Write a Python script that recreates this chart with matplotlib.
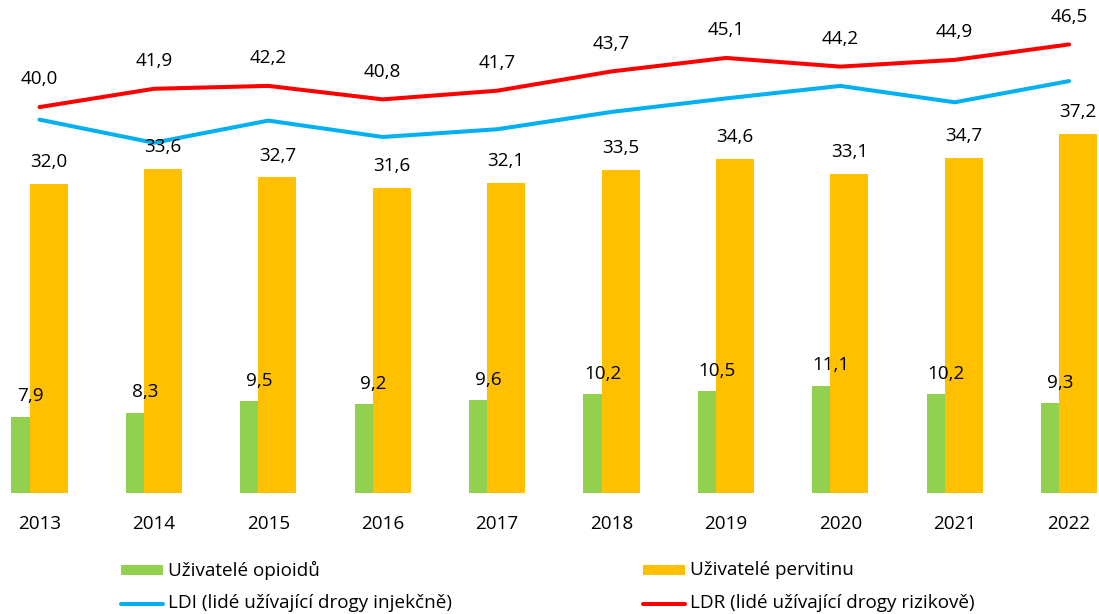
import matplotlib
matplotlib.use("Agg")
import matplotlib.pyplot as plt
from matplotlib.patches import Rectangle
from matplotlib.lines import Line2D
import numpy as np

plt.rcParams['font.family'] = ['Open Sans', 'DejaVu Sans']

years = ["2013", "2014", "2015", "2016", "2017", "2018", "2019", "2020", "2021", "2022"]
opioid_users = [7.9, 8.3, 9.5, 9.2, 9.6, 10.2, 10.5, 11.1, 10.2, 9.3]
pervitin_users = [32.0, 33.6, 32.7, 31.6, 32.1, 33.5, 34.6, 33.1, 34.7, 37.2]
ldi = [38.7, 36.3, 38.6, 36.9, 37.7, 39.5, 40.9, 42.2, 40.5, 42.7]
ldr = [40.0, 41.9, 42.2, 40.8, 41.7, 43.7, 45.1, 44.2, 44.9, 46.5]

legend_labels = ["Uživatelé opioidů", "Uživatelé pervitinu",
                 "LDI (lidé užívající drogy injekčně)",
                 "LDR (lidé užívající drogy rizikově)"]

GREEN = "#92D050"
ORANGE = "#FFC000"
BLUE = "#00B0F0"
RED = "#FF0000"
FS = 13.6

W, H = 1099, 614
fig = plt.figure(figsize=(W / 100, H / 100), dpi=100)
ax = fig.add_axes([0, 121.3 / H, 1, 482 / H])

x = np.arange(len(years))
bw = 0.332
off = 0.079

ax.bar(x - off, opioid_users, width=bw, color=GREEN, zorder=2)
ax.bar(x + off, pervitin_users, width=bw, color=ORANGE, zorder=3)
ax.plot(x, ldi, color=BLUE, lw=2.9, solid_capstyle='round', zorder=4)
ax.plot(x, ldr, color=RED, lw=2.9, solid_capstyle='round', zorder=4)


def fmt(v):
    return f"{v:.1f}".replace(".", ",")


for xi, v in zip(x, opioid_users):
    ax.annotate(fmt(v), (xi - off, v), xytext=(0, 14.7), textcoords="offset points",
                ha="center", va="center", fontsize=FS, color="black", zorder=6)
for xi, v in zip(x, pervitin_users):
    ax.annotate(fmt(v), (xi + off, v), xytext=(0, 15.8), textcoords="offset points",
                ha="center", va="center", fontsize=FS, color="black", zorder=6)
for xi, v in zip(x, ldr):
    ax.annotate(fmt(v), (xi, v), xytext=(0, 19.9), textcoords="offset points",
                ha="center", va="center", fontsize=FS, color="black", zorder=6)

ax.set_xlim(-39.5 / 114.4, (W - 39.5) / 114.4)
ax.set_ylim(0, 50)
ax.set_xticks(x)
ax.set_xticklabels(years, fontsize=FS)
for lab in ax.get_xticklabels():
    lab.set_va("center")
ax.tick_params(axis="x", length=0, pad=22.5)
ax.set_yticks([])
for s in ax.spines.values():
    s.set_visible(False)
ax.patch.set_alpha(0)

# legend, drawn in figure pixel space
def fx(px):
    return px / W


def fy(py):
    return 1 - py / H


legend_items = [
    ("patch", GREEN, legend_labels[0], 121, 570),
    ("patch", ORANGE, legend_labels[1], 643, 570),
    ("line", BLUE, legend_labels[2], 121, 603.5),
    ("line", RED, legend_labels[3], 643, 603.5),
]
for kind, col, label, px, py in legend_items:
    if kind == "patch":
        fig.add_artist(Rectangle((fx(px), fy(py + 5)), fx(42), 10 / H,
                                 transform=fig.transFigure, color=col, lw=0))
    else:
        fig.add_artist(Line2D([fx(px), fx(px + 42)], [fy(py), fy(py)],
                              transform=fig.transFigure, color=col, lw=2.9,
                              solid_capstyle='round'))
    fig.text(fx(px + 47), fy(py), label, fontsize=FS, va="center", ha="left",
             color="black")

fig.savefig("out.png", dpi=100)
